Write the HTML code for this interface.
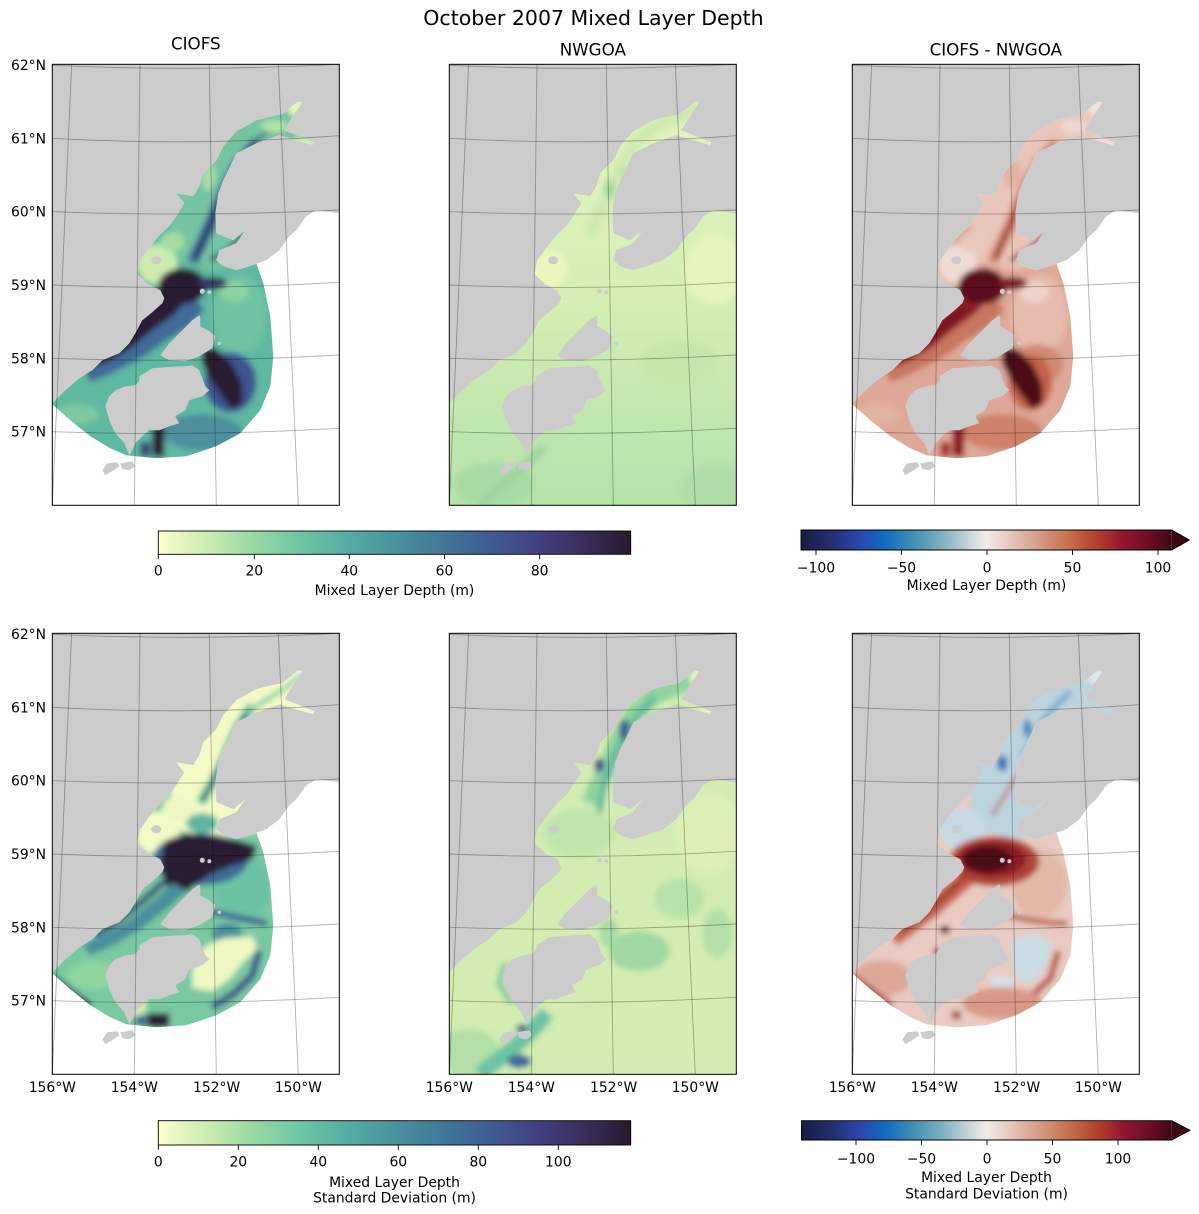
<!DOCTYPE html>
<html><head><meta charset="utf-8">
<style>
body{margin:0;background:#fff}
svg{display:block}
text{font-family:"DejaVu Sans","Liberation Sans",sans-serif;fill:#000}
</style></head>
<body>
<svg width="1199" height="1214" viewBox="0 0 1199 1214" xmlns="http://www.w3.org/2000/svg">
<defs>
<linearGradient id="deep" x1="0" x2="1" y1="0" y2="0">
<stop offset="0" stop-color="#fdfecc"/><stop offset="0.1" stop-color="#cdedb1"/><stop offset="0.2" stop-color="#99d9a3"/><stop offset="0.3" stop-color="#6ec6a4"/><stop offset="0.4" stop-color="#55aca2"/><stop offset="0.5" stop-color="#4a929e"/><stop offset="0.6" stop-color="#427899"/><stop offset="0.7" stop-color="#3e5d93"/><stop offset="0.8" stop-color="#424183"/><stop offset="0.9" stop-color="#3b2d5c"/><stop offset="1" stop-color="#281a2c"/>
</linearGradient>
<linearGradient id="bal" x1="0" x2="1" y1="0" y2="0">
<stop offset="0" stop-color="#181c43"/><stop offset="0.08" stop-color="#232d6e"/><stop offset="0.16" stop-color="#2b48ad"/><stop offset="0.22" stop-color="#1068c0"/><stop offset="0.30" stop-color="#3f8fb4"/><stop offset="0.38" stop-color="#7fb0c0"/><stop offset="0.45" stop-color="#c4d4d9"/><stop offset="0.50" stop-color="#f1ecea"/><stop offset="0.56" stop-color="#e6c9be"/><stop offset="0.64" stop-color="#d69e88"/><stop offset="0.72" stop-color="#c67150"/><stop offset="0.80" stop-color="#b2402a"/><stop offset="0.87" stop-color="#921431"/><stop offset="0.94" stop-color="#6a0e25"/><stop offset="1" stop-color="#3c0912"/>
</linearGradient>
<linearGradient id="nwg" gradientUnits="userSpaceOnUse" x1="0" y1="0" x2="0" y2="441">
<stop offset="0" stop-color="#e6f5bd"/><stop offset="0.5" stop-color="#d6efb4"/><stop offset="1" stop-color="#b4e2a9"/>
</linearGradient>
<filter id="bl" x="-10%" y="-10%" width="120%" height="120%"><feGaussianBlur stdDeviation="3"/></filter>
<clipPath id="cW"><path d="M287,149 L264,146 L254,152 L244,166 L237,172 L227,186 L214,196 L197,202 L184,206 L171,202 L164,196 L167,186 L184,179 L193,166 L181,176 L164,169 L163,149 L166,129 L171,116 L178,102 L184,89 L204,79 L227,71 L261,81 L262,78 L232,66 L238,56 L250,38 L246,37 L230,50 L215,53 L204,56 L184,67 L171,82 L164,96 L151,109 L147,122 L141,132 L124,129 L132,139 L124,152 L117,162 L108,170 L98,182 L88,196 L85,210 L96,220 L108,226 L112,234 L110,239 L100,248 L90,256 L83,269 L77,279 L67,289 L50,296 L40,306 L27,314 L13,326 L3,336 L0,339 L0,441 L287,441 Z"/></clipPath>
<clipPath id="cF"><path d="M0,0 L287,0 L287,130 L255,135 L235,160 L215,185 L204,199 L211,219 L218,252 L221,292 L218,322 L208,346 L188,369 L164,382 L134,392 L104,394 L74,391 L58,384 L38,372 L18,356 L1,341 L0,341 Z"/></clipPath>
<path id="water" d="M287,149 L264,146 L254,152 L244,166 L237,172 L227,186 L214,196 L197,202 L184,206 L171,202 L164,196 L167,186 L184,179 L193,166 L181,176 L164,169 L163,149 L166,129 L171,116 L178,102 L184,89 L204,79 L227,71 L261,81 L262,78 L232,66 L238,56 L250,38 L246,37 L230,50 L215,53 L204,56 L184,67 L171,82 L164,96 L151,109 L147,122 L141,132 L124,129 L132,139 L124,152 L117,162 L108,170 L98,182 L88,196 L85,210 L96,220 L108,226 L112,234 L110,239 L100,248 L90,256 L83,269 L77,279 L67,289 L50,296 L40,306 L27,314 L13,326 L3,336 L0,339 L0,441 L287,441 Z"/>
<g id="isl" fill="#cccccc">
<path d="M147,251 L140,256 L130,266 L117,279 L108,291 L117,296 L133,297 L147,292 L160,284 L163,272 L157,267 L148,262 L148,254 Z"/>
<path d="M87,312 L100,304 L127,302 L133,302 L140,301 L147,306 L153,322 L157,326 L150,332 L137,336 L133,346 L123,352 L127,359 L117,362 L107,366 L97,366 L90,372 L83,379 L80,386 L77,391 L72,379 L63,369 L57,356 L53,342 L57,332 L63,326 L73,322 L83,321 L87,316 Z"/>
<path d="M50,406 L55,399 L65,398 L67,402 L60,407 L53,411 Z"/>
<path d="M68,399 L80,397 L83,402 L77,406 L70,405 Z"/>
<ellipse cx="104" cy="196" rx="5" ry="4"/>
<circle cx="150" cy="227" r="2.5"/><circle cx="157" cy="228" r="2"/>
<circle cx="167" cy="279" r="1.8"/>
</g>
<g id="grid" fill="none" stroke="#000" stroke-opacity="0.3" stroke-width="0.9">
<path d="M0,1 Q143.5,7.5 287,0"/>
<path d="M0,74 Q143.5,82.1 287,71.4"/>
<path d="M0,147.4 Q143.5,152.85 287,145.7"/>
<path d="M0,220.7 Q143.5,226.65 287,218"/>
<path d="M0,294 Q143.5,299.05 287,290.7"/>
<path d="M0,367.4 Q143.5,372.3 287,364"/>
<path d="M19.3,0 L0,441"/>
<path d="M87.7,0 L82,441"/>
<path d="M157,0 L164,441"/>
<path d="M226,0 L246,441"/>
</g>
<path id="upin" d="M110,15 L290,15 L290,125 L205,198 L160,205 L120,195 Z"/>
<path id="afg" d="M150,283 L165,285 L180,300 L190,320 L190,340 L180,345 L168,330 L158,315 L150,300 Z"/>
<path id="shk" d="M142,232 L152,246 L136,263 L114,276 L94,291 L74,302 L54,312 L38,318 L32,306 L60,290 L86,274 L110,255 Z"/>
<path id="cband" d="M116,212 L142,226 L122,250 L100,266 L76,286 L52,299 L34,304 L28,296 L50,281 L74,262 L94,240 Z"/>
</defs>

<text x="593.5" y="25" font-size="20.5" text-anchor="middle">October 2007 Mixed Layer Depth</text>
<text x="195.8" y="49.5" font-size="16.7" text-anchor="middle">CIOFS</text>
<text x="592.8" y="55.5" font-size="16.7" text-anchor="middle">NWGOA</text>
<text x="995.8" y="55.5" font-size="16.7" text-anchor="middle">CIOFS - NWGOA</text>

<!-- Panel 1: CIOFS mean -->
<g transform="translate(52.3,64.3)">
<rect width="287" height="441" fill="#cccccc"/>
<use href="#water" fill="#fff"/>
<g clip-path="url(#cF)"><g clip-path="url(#cW)"><g filter="url(#bl)">
<rect x="-20" y="-20" width="327" height="481" fill="#5fb8a1"/>
<use href="#upin" fill="#74c5a2"/>
<ellipse cx="246" cy="43" rx="12" ry="9" fill="#e6f5bb"/>
<ellipse cx="252" cy="78" rx="14" ry="5" fill="#d9f0b3"/>
<ellipse cx="222" cy="62" rx="14" ry="6" fill="#b5e2a8"/>
<ellipse cx="156" cy="112" rx="7" ry="14" fill="#a8dca6"/>
<ellipse cx="105" cy="200" rx="20" ry="20" fill="#cdebae"/>
<ellipse cx="120" cy="178" rx="12" ry="10" fill="#a6dda5"/>
<ellipse cx="187" cy="250" rx="28" ry="40" fill="#6fc3a3"/>
<ellipse cx="182" cy="228" rx="15" ry="10" fill="#8fd3a1"/>
<ellipse cx="178" cy="318" rx="26" ry="30" fill="#3e5590"/>
<use href="#afg" fill="#2a1c30"/>
<ellipse cx="150" cy="368" rx="40" ry="18" fill="#4d8f9d"/>
<rect x="100" y="360" width="12" height="32" fill="#2a1c30"/>
<rect x="88" y="378" width="10" height="14" fill="#3b3f78"/>
<ellipse cx="25" cy="350" rx="22" ry="10" fill="#7ec9a1"/>
<use href="#shk" fill="#3f6c97"/>
<use href="#cband" fill="#2b1e36"/>
<ellipse cx="130" cy="222" rx="24" ry="18" fill="#2a1c30"/>
<ellipse cx="160" cy="219" rx="15" ry="6" fill="#30305e"/>
<path d="M205,78 L185,100 L170,130 L158,160 L140,198" stroke="#3f6c97" stroke-width="12" fill="none"/>
<path d="M197,86 L176,118 L160,156 L143,194" stroke="#2f3565" stroke-width="5" fill="none"/>
<path d="M215,68 L198,80" stroke="#2f3565" stroke-width="3" fill="none"/>
<path d="M158,196 L176,186 L192,170" stroke="#2c2448" stroke-width="4" fill="none"/>
</g></g></g>
<use href="#isl"/>
<use href="#grid"/>
<rect width="287" height="441" fill="none" stroke="#000" stroke-width="1"/>
</g>

<!-- Panel 2: NWGOA mean -->
<g transform="translate(449.3,64.3)">
<rect width="287" height="441" fill="#cccccc"/>
<g clip-path="url(#cW)"><g filter="url(#bl)">
<rect x="-20" y="-20" width="327" height="481" fill="url(#nwg)"/>
<path d="M250,40 L230,52 L205,62 L185,80 L170,105 L160,130 L150,150 L140,170" stroke="#cfeab0" stroke-width="14" fill="none"/>
<ellipse cx="160" cy="125" rx="6" ry="9" fill="#a3daa4"/>
<ellipse cx="175" cy="108" rx="4" ry="6" fill="#b0dea6"/>
<ellipse cx="100" cy="205" rx="18" ry="18" fill="#ecf7c0"/>
<ellipse cx="265" cy="205" rx="30" ry="35" fill="#e5f5bc"/>
<ellipse cx="230" cy="300" rx="40" ry="25" fill="#c6e7ac"/>
<ellipse cx="45" cy="420" rx="40" ry="22" fill="#a8dca5"/>
<path d="M30,441 L60,415 L95,383" stroke="#9dd7a3" stroke-width="10" fill="none"/>
<ellipse cx="270" cy="425" rx="40" ry="25" fill="#afdfa7"/>
</g></g>
<use href="#isl"/>
<use href="#grid"/>
<rect width="287" height="441" fill="none" stroke="#000" stroke-width="1"/>
</g>

<!-- Panel 3: CIOFS - NWGOA mean -->
<g transform="translate(852.3,64.3)">
<rect width="287" height="441" fill="#cccccc"/>
<use href="#water" fill="#fff"/>
<g clip-path="url(#cF)"><g clip-path="url(#cW)"><g filter="url(#bl)">
<rect x="-20" y="-20" width="327" height="481" fill="#dea898"/>
<use href="#upin" fill="#e9c6ba"/>
<ellipse cx="246" cy="43" rx="12" ry="9" fill="#f0e3dd"/>
<ellipse cx="252" cy="78" rx="14" ry="5" fill="#f0e3dd"/>
<ellipse cx="222" cy="62" rx="14" ry="6" fill="#efdad2"/>
<ellipse cx="160" cy="110" rx="10" ry="14" fill="#e2b3a3"/>
<ellipse cx="105" cy="200" rx="20" ry="20" fill="#efdbd3"/>
<ellipse cx="120" cy="178" rx="12" ry="10" fill="#e9c9bd"/>
<ellipse cx="187" cy="250" rx="28" ry="40" fill="#e6bcae"/>
<ellipse cx="182" cy="228" rx="15" ry="10" fill="#eed3c9"/>
<ellipse cx="185" cy="300" rx="26" ry="20" fill="#d08a75"/>
<ellipse cx="178" cy="318" rx="22" ry="28" fill="#c4634a"/>
<use href="#afg" fill="#4d0a17"/>
<ellipse cx="150" cy="368" rx="40" ry="18" fill="#cf8068"/>
<rect x="100" y="360" width="12" height="32" fill="#8a1a26"/>
<rect x="88" y="378" width="10" height="14" fill="#a8262b"/>
<ellipse cx="25" cy="350" rx="22" ry="10" fill="#e3b3a3"/>
<use href="#shk" fill="#c8765f"/>
<use href="#cband" fill="#8c1a27"/>
<path d="M112,244 L85,268 L55,290 L35,300" stroke="#6e0f22" stroke-width="4" fill="none"/>
<ellipse cx="130" cy="222" rx="24" ry="18" fill="#5a0b1b"/>
<ellipse cx="160" cy="219" rx="15" ry="6" fill="#7b1425"/>
<path d="M205,78 L185,100 L170,130 L158,160 L140,198" stroke="#cf8a72" stroke-width="12" fill="none"/>
<path d="M197,86 L176,118 L160,156 L143,194" stroke="#9a2a2e" stroke-width="4" fill="none"/>
<path d="M158,196 L176,186 L192,170" stroke="#7b1425" stroke-width="4" fill="none"/>
</g></g></g>
<use href="#isl"/>
<use href="#grid"/>
<rect width="287" height="441" fill="none" stroke="#000" stroke-width="1"/>
</g>

<!-- Panel 4: CIOFS std -->
<g transform="translate(52.3,633.3)">
<rect width="287" height="441" fill="#cccccc"/>
<use href="#water" fill="#fff"/>
<g clip-path="url(#cF)"><g clip-path="url(#cW)"><g filter="url(#bl)">
<rect x="-20" y="-20" width="327" height="481" fill="#79c9a2"/>
<use href="#upin" fill="#f3fac6"/>
<ellipse cx="105" cy="200" rx="22" ry="22" fill="#f3fac6"/>
<ellipse cx="125" cy="175" rx="15" ry="12" fill="#eef8c2"/>
<path d="M250,42 L228,58 L205,72 L188,92" stroke="#6ec4a4" stroke-width="4" fill="none"/>
<path d="M200,72 L185,95 L172,125 L160,150 L148,170" stroke="#6ec4a4" stroke-width="10" fill="none"/>
<path d="M195,80 L178,112 L162,145 L150,168" stroke="#2d3060" stroke-width="3" fill="none"/>
<ellipse cx="150" cy="190" rx="16" ry="10" fill="#5db6a2"/>
<ellipse cx="190" cy="255" rx="28" ry="35" fill="#6cc3a4"/>
<ellipse cx="148" cy="226" rx="48" ry="26" fill="#3d6a95"/>
<path d="M112,208 L135,200 L160,203 L185,207 L205,213 L200,226 L180,232 L160,240 L145,250 L130,262 L115,255 L108,235 Z" fill="#2a1c30"/>
<path d="M120,250 L100,268 L75,288 L50,302 L30,312 L38,322 L62,312 L90,295 L115,275 L135,258 Z" fill="#4a8f9c"/>
<path d="M112,248 L90,268 L65,288 L42,302" stroke="#3b3f78" stroke-width="6" fill="none"/>
<path d="M150,276 Q185,285 215,290" stroke="#3f5a90" stroke-width="6" fill="none"/>
<ellipse cx="175" cy="300" rx="15" ry="10" fill="#4a8f9c"/>
<path d="M140,335 L150,315 L170,305 L200,303 L205,315 L190,330 L178,345 L160,358 L140,355 Z" fill="#eff8c2"/>
<path d="M207,318 L200,342 L182,360 L160,374" stroke="#3c4f8a" stroke-width="7" fill="none"/>
<path d="M0,343 L15,356 L38,372" stroke="#2a2245" stroke-width="6" fill="none"/>
<ellipse cx="40" cy="342" rx="25" ry="14" fill="#90d4a0"/>
<ellipse cx="85" cy="372" rx="9" ry="12" fill="#d5efb3"/>
<rect x="95" y="380" width="22" height="14" fill="#2a1c30"/>
<rect x="84" y="382" width="10" height="10" fill="#3e5d93"/>
</g></g></g>
<use href="#isl"/>
<use href="#grid"/>
<rect width="287" height="441" fill="none" stroke="#000" stroke-width="1"/>
</g>

<!-- Panel 5: NWGOA std -->
<g transform="translate(449.3,633.3)">
<rect width="287" height="441" fill="#cccccc"/>
<g clip-path="url(#cW)"><g filter="url(#bl)">
<rect x="-20" y="-20" width="327" height="481" fill="#d2ecb1"/>
<ellipse cx="260" cy="200" rx="35" ry="40" fill="#dcf0b6"/>
<path d="M250,40 L230,52 L205,62 L185,80 L170,105 L160,130 L150,150 L140,170" stroke="#8ed3a0" stroke-width="18" fill="none"/>
<path d="M205,64 L182,90 L166,120 L155,150 L150,180" stroke="#5fb7a1" stroke-width="6" fill="none"/>
<ellipse cx="175" cy="97" rx="5" ry="11" fill="#3f5a90"/>
<ellipse cx="150" cy="132" rx="5" ry="7" fill="#3e4f88"/>
<ellipse cx="248" cy="44" rx="8" ry="8" fill="#eaf6bd"/>
<ellipse cx="256" cy="80" rx="10" ry="4" fill="#e8f5bc"/>
<ellipse cx="130" cy="200" rx="35" ry="25" fill="#bfe5aa"/>
<ellipse cx="190" cy="318" rx="30" ry="20" fill="#9fd8a2"/>
<ellipse cx="230" cy="265" rx="25" ry="20" fill="#b8e2a9"/>
<ellipse cx="268" cy="300" rx="15" ry="25" fill="#b4e0a8"/>
<ellipse cx="20" cy="420" rx="30" ry="25" fill="#b3e0a8"/>
<path d="M30,441 L55,422 L78,402 L98,380" stroke="#6cc3a4" stroke-width="16" fill="none"/>
<ellipse cx="70" cy="428" rx="12" ry="7" fill="#3f6b98"/>
<ellipse cx="72" cy="395" rx="5" ry="4" fill="#3e4f88"/>
<path d="M56,330 L50,350 L62,370" stroke="#7cc9a1" stroke-width="6" fill="none"/>
<ellipse cx="160" cy="300" rx="10" ry="15" fill="#a8dca5"/>
</g></g>
<use href="#isl"/>
<use href="#grid"/>
<rect width="287" height="441" fill="none" stroke="#000" stroke-width="1"/>
</g>

<!-- Panel 6: std diff -->
<g transform="translate(852.3,633.3)">
<rect width="287" height="441" fill="#cccccc"/>
<use href="#water" fill="#fff"/>
<g clip-path="url(#cF)"><g clip-path="url(#cW)"><g filter="url(#bl)">
<rect x="-20" y="-20" width="327" height="481" fill="#e9cbc1"/>
<use href="#upin" fill="#bcd4de"/>
<ellipse cx="246" cy="43" rx="12" ry="9" fill="#dfe6ea"/>
<path d="M218,58 L198,78 L182,100 L170,125" stroke="#6ea4c8" stroke-width="5" fill="none"/>
<ellipse cx="175" cy="95" rx="4" ry="9" fill="#3d85c0"/>
<ellipse cx="150" cy="130" rx="5" ry="8" fill="#2a6db5"/>
<path d="M166,140 L152,163 L140,182" stroke="#c0573e" stroke-width="3" fill="none"/>
<ellipse cx="110" cy="195" rx="25" ry="20" fill="#c6d9e2"/>
<ellipse cx="187" cy="250" rx="28" ry="35" fill="#e3b9a9"/>
<path d="M150,280 Q182,290 215,290" stroke="#c06a55" stroke-width="6" fill="none"/>
<path d="M160,305 L185,300 L200,310 L195,330 L185,345 L170,350 L160,335 Z" fill="#c9dbe3"/>
<path d="M138,340 L162,345 L158,365 L140,362 Z" fill="#d3dfe5"/>
<path d="M206,318 L198,345 L180,362" stroke="#b34a38" stroke-width="6" fill="none"/>
<ellipse cx="30" cy="345" rx="30" ry="18" fill="#dda797"/>
<path d="M0,343 L20,358 L40,372" stroke="#9e2a2c" stroke-width="5" fill="none"/>
<path d="M120,240 L80,275 L40,305" stroke="#c46a52" stroke-width="18" fill="none"/>
<path d="M112,245 L75,278 L48,297" stroke="#a53c2e" stroke-width="6" fill="none"/>
<ellipse cx="142" cy="228" rx="45" ry="25" fill="#b04535"/>
<ellipse cx="140" cy="226" rx="34" ry="18" fill="#8c1a27"/>
<ellipse cx="135" cy="226" rx="24" ry="13" fill="#4a0a15"/>
<ellipse cx="150" cy="370" rx="40" ry="16" fill="#d9998a"/>
<rect x="100" y="378" width="8" height="8" fill="#a8262b"/>
<rect x="88" y="293" width="9" height="7" fill="#5a0b1b"/>
<rect x="82" y="315" width="5" height="7" fill="#5a0b1b"/>
</g></g></g>
<use href="#isl"/>
<use href="#grid"/>
<rect width="287" height="441" fill="none" stroke="#000" stroke-width="1"/>
</g>

<!-- Latitude labels -->
<g font-size="13.9" text-anchor="end">
<text x="46" y="69.8">62°N</text>
<text x="46" y="143.3">61°N</text>
<text x="46" y="216.7">60°N</text>
<text x="46" y="290">59°N</text>
<text x="46" y="363.3">58°N</text>
<text x="46" y="436.7">57°N</text>
<text x="46" y="638.8">62°N</text>
<text x="46" y="712.3">61°N</text>
<text x="46" y="785.7">60°N</text>
<text x="46" y="859">59°N</text>
<text x="46" y="932.3">58°N</text>
<text x="46" y="1005.7">57°N</text>
</g>
<!-- Longitude labels -->
<g font-size="13.9" text-anchor="middle">
<text x="52.3" y="1092">156°W</text>
<text x="134.3" y="1092">154°W</text>
<text x="216.6" y="1092">152°W</text>
<text x="298.3" y="1092">150°W</text>
<text x="449.3" y="1092">156°W</text>
<text x="531.3" y="1092">154°W</text>
<text x="613.6" y="1092">152°W</text>
<text x="695.3" y="1092">150°W</text>
<text x="852.3" y="1092">156°W</text>
<text x="934.3" y="1092">154°W</text>
<text x="1016.6" y="1092">152°W</text>
<text x="1098.3" y="1092">150°W</text>
</g>

<!-- Colorbar top-left -->
<rect x="158.3" y="531" width="472.4" height="23.3" fill="url(#deep)" stroke="#000" stroke-width="0.9"/>
<g stroke="#000" stroke-width="0.9">
<line x1="158.3" y1="554.3" x2="158.3" y2="559.2"/><line x1="254.3" y1="554.3" x2="254.3" y2="559.2"/><line x1="349.3" y1="554.3" x2="349.3" y2="559.2"/><line x1="444.5" y1="554.3" x2="444.5" y2="559.2"/><line x1="539.7" y1="554.3" x2="539.7" y2="559.2"/>
</g>
<g font-size="13.9" text-anchor="middle">
<text x="158.3" y="575.7">0</text><text x="254.3" y="575.7">20</text><text x="349.3" y="575.7">40</text><text x="444.5" y="575.7">60</text><text x="539.7" y="575.7">80</text>
<text x="394.5" y="595">Mixed Layer Depth (m)</text>
</g>

<!-- Colorbar top-right -->
<rect x="801" y="530" width="370.7" height="20" fill="url(#bal)"/>
<path d="M1171.7,530 L1189.3,540 L1171.7,550 Z" fill="#3c0912"/>
<path d="M801,530 L1171.7,530 L1189.3,540 L1171.7,550 L801,550 Z" fill="none" stroke="#000" stroke-width="0.9"/>
<g stroke="#000" stroke-width="0.9">
<line x1="816" y1="550" x2="816" y2="555"/><line x1="901.5" y1="550" x2="901.5" y2="555"/><line x1="987" y1="550" x2="987" y2="555"/><line x1="1072.5" y1="550" x2="1072.5" y2="555"/><line x1="1158" y1="550" x2="1158" y2="555"/>
</g>
<g font-size="13.9" text-anchor="middle">
<text x="816" y="572.5">−100</text><text x="901.5" y="572.5">−50</text><text x="987" y="572.5">0</text><text x="1072.5" y="572.5">50</text><text x="1158" y="572.5">100</text>
<text x="986.5" y="590">Mixed Layer Depth (m)</text>
</g>

<!-- Colorbar bottom-left -->
<rect x="158.3" y="1120.7" width="472.4" height="24.3" fill="url(#deep)" stroke="#000" stroke-width="0.9"/>
<g stroke="#000" stroke-width="0.9">
<line x1="158.3" y1="1145" x2="158.3" y2="1150"/><line x1="238.3" y1="1145" x2="238.3" y2="1150"/><line x1="318.3" y1="1145" x2="318.3" y2="1150"/><line x1="398.3" y1="1145" x2="398.3" y2="1150"/><line x1="478.3" y1="1145" x2="478.3" y2="1150"/><line x1="558.3" y1="1145" x2="558.3" y2="1150"/>
</g>
<g font-size="13.9" text-anchor="middle">
<text x="158.3" y="1166.7">0</text><text x="238.3" y="1166.7">20</text><text x="318.3" y="1166.7">40</text><text x="398.3" y="1166.7">60</text><text x="478.3" y="1166.7">80</text><text x="558.3" y="1166.7">100</text>
<text x="394.5" y="1186.8">Mixed Layer Depth</text>
<text x="394.5" y="1202.5">Standard Deviation (m)</text>
</g>

<!-- Colorbar bottom-right -->
<rect x="801.5" y="1120.7" width="370.2" height="19.3" fill="url(#bal)"/>
<path d="M1171.7,1120.7 L1190,1130.3 L1171.7,1140 Z" fill="#3c0912"/>
<path d="M801.5,1120.7 L1171.7,1120.7 L1190,1130.3 L1171.7,1140 L801.5,1140 Z" fill="none" stroke="#000" stroke-width="0.9"/>
<g stroke="#000" stroke-width="0.9">
<line x1="856" y1="1140" x2="856" y2="1145"/><line x1="921.5" y1="1140" x2="921.5" y2="1145"/><line x1="987" y1="1140" x2="987" y2="1145"/><line x1="1052.5" y1="1140" x2="1052.5" y2="1145"/><line x1="1118" y1="1140" x2="1118" y2="1145"/>
</g>
<g font-size="13.9" text-anchor="middle">
<text x="856" y="1163.3">−100</text><text x="921.5" y="1163.3">−50</text><text x="987" y="1163.3">0</text><text x="1052.5" y="1163.3">50</text><text x="1118" y="1163.3">100</text>
<text x="986.5" y="1181.8">Mixed Layer Depth</text>
<text x="986.5" y="1198.4">Standard Deviation (m)</text>
</g>
</svg>
</body></html>
